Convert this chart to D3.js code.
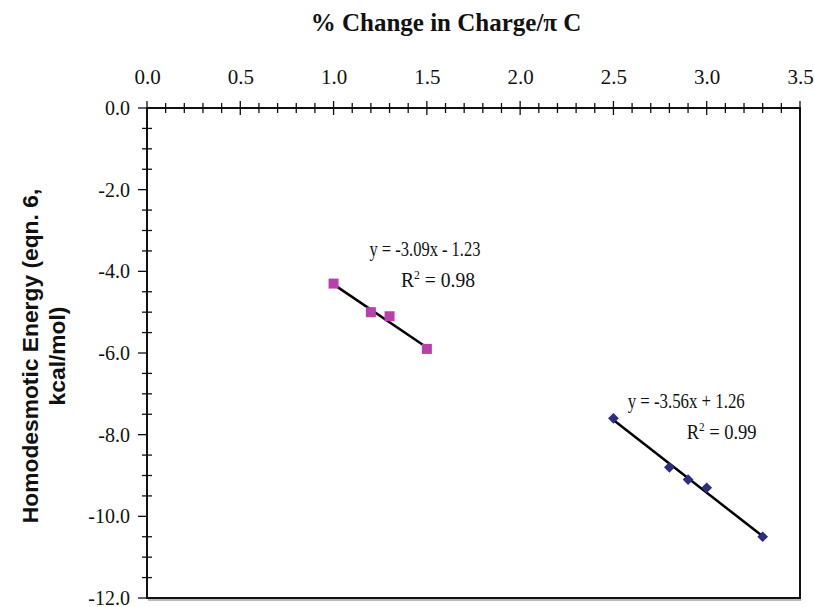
<!DOCTYPE html>
<html>
<head>
<meta charset="utf-8">
<script src="https://cdn.jsdelivr.net/npm/d3@7"></script>
<style>
  body { margin: 0; background: #fff; }
  svg { display: block; }
</style>
</head>
<body>
<div id="chart"></div>
<script>
// data
var pinkX = [1.0, 1.2, 1.3, 1.5];
var pinkY = [-4.3, -5.0, -5.1, -5.9];
var blueX = [2.5, 2.8, 2.9, 3.0, 3.3];
var blueY = [-7.6, -8.8, -9.1, -9.3, -10.5];

// linear fits as printed on the chart
var pinkFit = {slope: -3.09, icept: -1.23, from: 1.0, to: 1.5};
var blueFit = {slope: -3.56, icept: 1.26, from: 2.5, to: 3.3};

var xTicks = [0.0, 0.5, 1.0, 1.5, 2.0, 2.5, 3.0, 3.5];
var yTicks = [0, -2, -4, -6, -8, -10, -12];

var W = 814, H = 607;
var margin = {top: 108, right: 14, bottom: 9, left: 147},
    width = W - margin.left - margin.right,
    height = H - margin.top - margin.bottom;

var serif = "Liberation Serif, Times New Roman, serif";
var fmt = d => d3.format(".1f")(d).replace("\u2212", "-");

var svg = d3.select("#chart").append("svg")
    .attr("width", W)
    .attr("height", H);

var g = svg.append("g")
    .attr("transform", "translate(" + margin.left + "," + margin.top + ")");

var x = d3.scaleLinear().domain([0, 3.5]).range([0, width]);
var y = d3.scaleLinear().domain([-12, 0]).range([height, 0]);

// frame (with a faint shadow under the bottom edge)
g.append("rect")
    .attr("x", 1).attr("y", height + 1)
    .attr("width", width).attr("height", 2)
    .attr("fill", "#bbb");
g.append("rect")
    .attr("x", 0).attr("y", 0)
    .attr("width", width).attr("height", height)
    .attr("fill", "none")
    .attr("stroke", "#111")
    .attr("stroke-width", 2);

// top axis labels
g.append("g")
    .call(d3.axisTop(x).tickValues(xTicks).tickSize(0).tickPadding(24).tickFormat(fmt))
    .call(s => s.select(".domain").remove())
    .attr("font-family", serif)
    .attr("font-size", 21)
    .selectAll("text")
    .attr("fill", "#111");

// left axis labels
g.append("g")
    .call(d3.axisLeft(y).tickValues(yTicks).tickSize(0).tickPadding(17).tickFormat(fmt))
    .call(s => s.select(".domain").remove())
    .attr("font-family", serif)
    .attr("font-size", 20)
    .selectAll("text")
    .attr("fill", "#111");

// crossing tick marks
var xMinor = d3.range(0, 36).map(d => d / 10);
g.append("g").selectAll("line")
    .data(xMinor)
    .enter().append("line")
    .attr("x1", d => x(d)).attr("x2", d => x(d))
    .attr("y1", d => Math.round(d * 10) % 5 == 0 ? -7 : -5)
    .attr("y2", d => Math.round(d * 10) % 5 == 0 ? 7 : 5)
    .attr("stroke", "#111")
    .attr("stroke-width", 1.3);

var yMinor = d3.range(0, 25).map(d => -d / 2);
g.append("g").selectAll("line")
    .data(yMinor)
    .enter().append("line")
    .attr("y1", d => y(d)).attr("y2", d => y(d))
    .attr("x1", d => d % 2 == 0 ? -9 : -5)
    .attr("x2", d => d % 2 == 0 ? 0 : 5)
    .attr("stroke", "#111")
    .attr("stroke-width", 1.3);

// trend lines
[pinkFit, blueFit].forEach(function(f) {
    g.append("line")
        .attr("x1", x(f.from)).attr("y1", y(f.slope * f.from + f.icept))
        .attr("x2", x(f.to)).attr("y2", y(f.slope * f.to + f.icept))
        .attr("stroke", "#000")
        .attr("stroke-width", 2.5);
});

// pink squares
g.append("g").selectAll("rect")
    .data(pinkX)
    .enter().append("rect")
    .attr("x", (d, i) => x(d) - 5)
    .attr("y", (d, i) => y(pinkY[i]) - 5)
    .attr("width", 10).attr("height", 10)
    .attr("fill", "#b93fae");

// blue diamonds
g.append("g").selectAll("path")
    .data(blueX)
    .enter().append("path")
    .attr("transform", (d, i) => "translate(" + x(d) + "," + y(blueY[i]) + ") rotate(45)")
    .attr("d", "M-3.8,-3.8H3.8V3.8H-3.8Z")
    .attr("fill", "#2c2c85");

// equation labels
function eq(cx, cy, txt, len, sup) {
    var t = g.append("text")
        .attr("x", cx).attr("y", cy)
        .attr("text-anchor", "middle")
        .attr("font-family", serif)
        .attr("font-size", 20)
        .attr("textLength", len)
        .attr("lengthAdjust", "spacingAndGlyphs")
        .attr("fill", "#111");
    if (sup) {
        t.append("tspan").text("R");
        t.append("tspan").attr("dy", -8).attr("font-size", 12).text("2");
        t.append("tspan").attr("dy", 8).text(" = " + txt);
    } else {
        t.text(txt);
    }
}
eq(x(1.49), y(-3.63), "y = -3.09x - 1.23", 111);
eq(x(1.56), y(-4.38), "0.98", 74, true);
eq(x(2.89), y(-7.35), "y = -3.56x + 1.26", 117);
eq(x(3.08), y(-8.1), "0.99", 70, true);

// titles
svg.append("text")
    .attr("x", 446).attr("y", 31)
    .attr("text-anchor", "middle")
    .attr("font-family", serif)
    .attr("font-weight", "bold")
    .attr("font-size", 25)
    .attr("fill", "#111")
    .text("% Change in Charge/\u03c0 C");

var yt = svg.append("text")
    .attr("transform", "translate(38,356) rotate(-90)")
    .attr("text-anchor", "middle")
    .attr("font-family", "Liberation Sans, Arial, sans-serif")
    .attr("font-weight", "bold")
    .attr("font-size", 22.8)
    .attr("fill", "#111");
yt.append("tspan").attr("x", 0).attr("y", 0).text("Homodesmotic Energy (eqn. 6,");
yt.append("tspan").attr("x", 0).attr("y", 27).text("kcal/mol)");
</script>
</body>
</html>
